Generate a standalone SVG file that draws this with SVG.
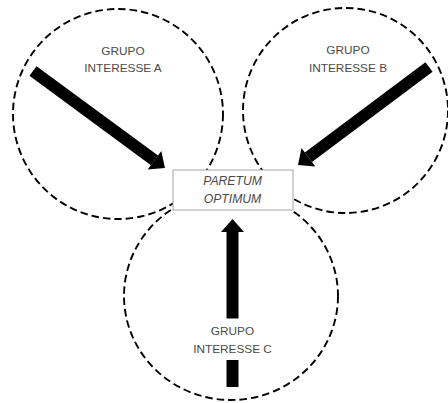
<svg xmlns="http://www.w3.org/2000/svg" width="448" height="403" viewBox="0 0 448 403">
<style>
.ring{fill:none;stroke:#000;stroke-width:1.9;stroke-dasharray:7.5 4}
.lbl{font-family:"Liberation Sans",Arial,sans-serif;font-size:11.8px;fill:#4a4a4a;text-anchor:middle}
.box{fill:#fff;stroke:#a6a6a6;stroke-width:1}
.core{font-family:"Liberation Sans",Arial,sans-serif;font-size:12.2px;font-style:italic;fill:#4a4a4a;text-anchor:middle}
.arr{stroke:#000;stroke-width:12;fill:none}
</style>
<defs>
<marker id="head" markerUnits="userSpaceOnUse" markerWidth="14" markerHeight="24" refX="0" refY="11.5" orient="auto" overflow="visible">
<path d="M0,0 L13,11.5 L0,23 Z" fill="#000"/>
</marker>
</defs>
<rect width="448" height="403" fill="#fff"/>
<g id="groupA">
<circle class="ring" cx="118" cy="114" r="105"/>
<text class="lbl" x="123" y="55">GRUPO</text>
<text class="lbl" x="123" y="72">INTERESSE A</text>
</g>
<g id="groupB">
<circle class="ring" cx="345.5" cy="110.5" r="102.5"/>
<text class="lbl" x="348" y="54">GRUPO</text>
<text class="lbl" x="348" y="72">INTERESSE B</text>
</g>
<g id="groupC">
<ellipse class="ring" cx="231" cy="296" rx="107" ry="104"/>
<text class="lbl" x="232.5" y="335">GRUPO</text>
<text class="lbl" x="232.5" y="353">INTERESSE C</text>
</g>
<g id="paretum">
<rect class="box" x="173" y="170" width="120" height="40"/>
<text class="core" x="232.5" y="185">PARETUM</text>
<text class="core" x="232.5" y="203">OPTIMUM</text>
</g>
<g id="connectors">
<line class="arr" x1="33" y1="71" x2="154.5" y2="160.3" marker-end="url(#head)"/>
<line class="arr" x1="429" y1="67" x2="308.4" y2="157.2" marker-end="url(#head)"/>
<line class="arr" x1="232.5" y1="387" x2="232.5" y2="360"/>
<line class="arr" x1="232.5" y1="318.5" x2="232.5" y2="232" marker-end="url(#head)"/>
</g>
</svg>
